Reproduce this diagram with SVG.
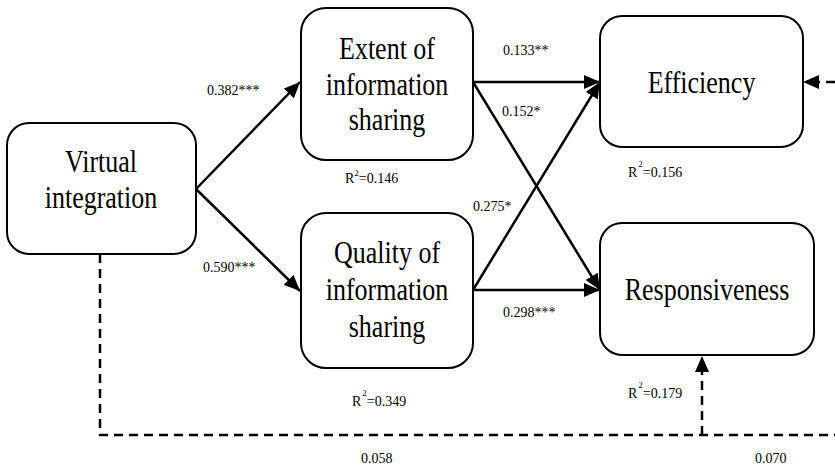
<svg xmlns="http://www.w3.org/2000/svg" width="835" height="470" viewBox="0 0 835 470">
<style>
.box{fill:#fff;stroke:#000;stroke-width:2}
.big{font-family:'Liberation Serif','Times New Roman',serif;font-size:26px;fill:#000;text-anchor:middle}
.lab{font-family:'Liberation Serif','Times New Roman',serif;font-size:14px;fill:#000}
.sup{font-size:9px}
.arr{fill:none;stroke:#000;stroke-width:2.5;marker-end:url(#ah)}
.dash{fill:none;stroke:#000;stroke-width:2.5;stroke-dasharray:9 6}
</style>
<defs>
<marker id="ah" markerUnits="userSpaceOnUse" markerWidth="18" markerHeight="14" refX="16" refY="7" orient="auto">
<path d="M0,0 L16,7 L0,14 Z" fill="#000"/>
</marker>
</defs>
<g id="connectors">
<line class="arr" x1="196" y1="189" x2="300" y2="82"/>
<line class="arr" x1="196" y1="189" x2="300" y2="291"/>
<line class="arr" x1="473" y1="82" x2="600" y2="82"/>
<line class="arr" x1="473" y1="82" x2="600" y2="290"/>
<line class="arr" x1="473" y1="290" x2="600" y2="82"/>
<line class="arr" x1="473" y1="290" x2="600" y2="290"/>
<polyline class="dash" points="100,254 100,435 835,435"/>
<line class="dash" x1="702" y1="435" x2="702" y2="370"/>
<path d="M702,356 L695,372 L709,372 Z" fill="#000"/>
<line class="dash" x1="835" y1="82" x2="818" y2="82"/>
<path d="M803,82 L819,75 L819,89 Z" fill="#000"/>
</g>
<g id="virtual">
<rect class="box" x="7" y="123" width="189" height="131" rx="22"/>
<text class="big" transform="translate(101,172) scale(1,1.2)">Virtual</text>
<text class="big" transform="translate(101,208) scale(1,1.2)">integration</text>
</g>
<g id="extent">
<rect class="box" x="301" y="8" width="172" height="152" rx="25"/>
<text class="big" transform="translate(387,59) scale(1,1.2)">Extent of</text>
<text class="big" transform="translate(387,95) scale(1,1.2)">information</text>
<text class="big" transform="translate(387,130) scale(1,1.2)">sharing</text>
</g>
<g id="quality">
<rect class="box" x="301" y="213" width="172" height="155" rx="25"/>
<text class="big" transform="translate(387,263) scale(1,1.2)">Quality of</text>
<text class="big" transform="translate(387,300) scale(1,1.2)">information</text>
<text class="big" transform="translate(387,337) scale(1,1.2)">sharing</text>
</g>
<g id="efficiency">
<rect class="box" x="600" y="16" width="203" height="131" rx="22"/>
<text class="big" transform="translate(701.5,93) scale(1,1.2)">Efficiency</text>
</g>
<g id="responsiveness">
<rect class="box" x="600" y="223" width="214" height="132" rx="22"/>
<text class="big" transform="translate(707,300) scale(1,1.2)">Responsiveness</text>
</g>
<g id="labels">
<text class="lab" x="207" y="95">0.382***</text>
<text class="lab" x="203" y="272">0.590***</text>
<text class="lab" x="503" y="55">0.133**</text>
<text class="lab" x="502" y="116">0.152*</text>
<text class="lab" x="473" y="211">0.275*</text>
<text class="lab" x="503" y="317">0.298***</text>
<text class="lab" x="345" y="183">R<tspan class="sup" dy="-7">2</tspan><tspan dy="7">=0.146</tspan></text>
<text class="lab" x="628" y="177">R<tspan class="sup" dy="-10" dx="1">2</tspan><tspan dy="10">=0.156</tspan></text>
<text class="lab" x="352" y="406">R<tspan class="sup" dy="-10" dx="1">2</tspan><tspan dy="10">=0.349</tspan></text>
<text class="lab" x="628" y="398">R<tspan class="sup" dy="-10" dx="1">2</tspan><tspan dy="10">=0.179</tspan></text>
<text class="lab" x="361" y="463">0.058</text>
<text class="lab" x="755" y="463">0.070</text>
</g>
</svg>
